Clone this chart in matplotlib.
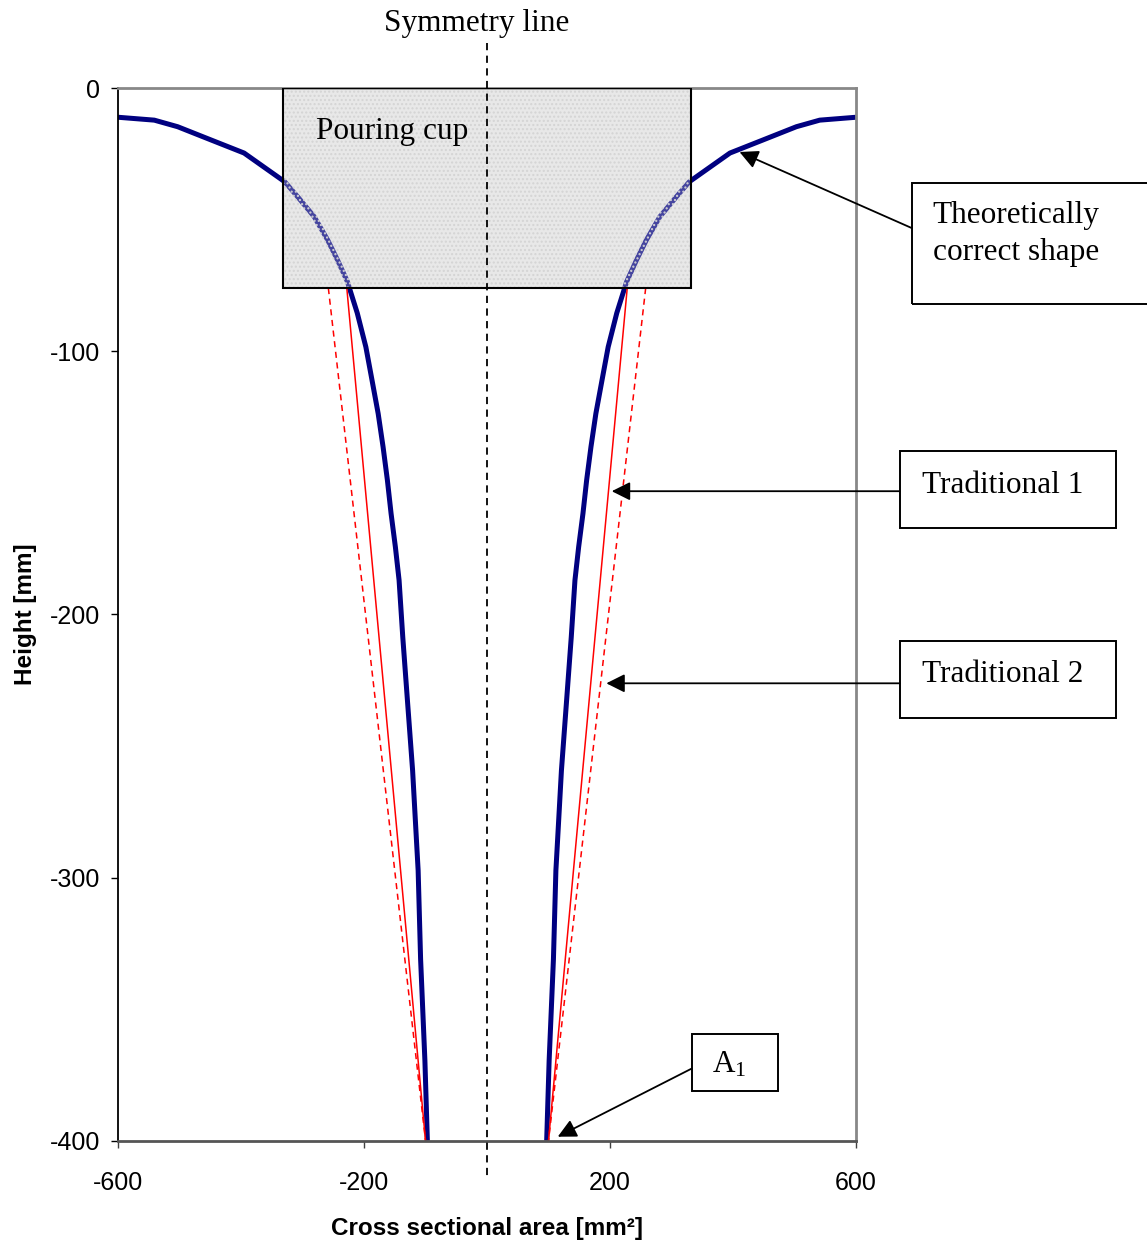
import matplotlib
matplotlib.use("Agg")
import matplotlib.pyplot as plt
from matplotlib.patches import Rectangle

# theoretically correct shape (right half, mirrored for the left half)
curve_h = [-11.1, -12.2, -14.7, -19.8, -24.7, -35.6, -41.3, -48.9, -57.8, -65.4,
           -73.6, -85.5, -98.4, -111, -123.7, -136.4, -149, -161.7, -174.4, -187,
           -208.6, -234, -259.3, -284.7, -297.3, -331, -369.6, -400]
curve_a = [600, 541, 503, 448, 395, 329, 308, 281, 259, 243,
           227, 211, 197, 187, 177, 169, 162, 156, 149, 143,
           137, 129, 121, 115, 112, 108, 101, 97]

# traditional shapes: straight lines from cup bottom to A1
trad_h = [-76, -400]
trad1_a = [228, 100]
trad2_a = [258, 100]

cup_w = 331
cup_h = 76

serif = "Liberation Serif"
sans = "Liberation Sans"
plt.rcParams["font.family"] = sans
plt.rcParams["axes.unicode_minus"] = False
plt.rcParams["mathtext.fontset"] = "custom"
plt.rcParams["mathtext.rm"] = serif
plt.rcParams["mathtext.it"] = serif

fig = plt.figure(figsize=(11.47, 12.40), dpi=100)
ax = fig.add_axes([0.1029, 0.0801, 0.6434, 0.8489])

# pouring cup background (under the curve)
ax.add_patch(Rectangle((-cup_w, -cup_h), 2 * cup_w, cup_h, facecolor="#e8e8e8",
                       edgecolor="none", zorder=1))

navy = "#000080"
ax.plot(curve_a, curve_h, color=navy, lw=3.6, zorder=2, solid_capstyle="butt",
        solid_joinstyle="round")
ax.plot([-a for a in curve_a], curve_h, color=navy, lw=3.6, zorder=2,
        solid_capstyle="butt", solid_joinstyle="round")

ax.plot(trad1_a, trad_h, color="red", lw=1.1, zorder=2)
ax.plot([-a for a in trad1_a], trad_h, color="red", lw=1.1, zorder=2)
ax.plot(trad2_a, trad_h, color="red", lw=1.1, ls=(0, (4, 3)), zorder=2)
ax.plot([-a for a in trad2_a], trad_h, color="red", lw=1.1, ls=(0, (4, 3)), zorder=2)

# cup overlay (slightly covers the curve), dotted texture, outline
ax.add_patch(Rectangle((-cup_w, -cup_h), 2 * cup_w, cup_h, facecolor="#e8e8e8",
                       edgecolor="none", alpha=0.3, zorder=3))
ax.add_patch(Rectangle((-cup_w, -cup_h), 2 * cup_w, cup_h, fill=False,
                       edgecolor="#d4d4d4", lw=0, hatch="....", zorder=3))
ax.add_patch(Rectangle((-cup_w, -cup_h), 2 * cup_w, cup_h, fill=False,
                       edgecolor="black", lw=1.5, zorder=4))
ax.text(-278, -16.5, "Pouring cup", family=serif, fontsize=22.5, va="center",
        ha="left", zorder=5)

# symmetry line
ax.plot([0, 0], [17, -415], color="black", lw=1.3, ls=(0, (4, 3)),
        clip_on=False, zorder=5)
ax.text(-16, 24.5, "Symmetry line", family=serif, fontsize=22.5, ha="center",
        va="center", clip_on=False)

ax.set_xlim(-600, 600)
ax.set_ylim(-400, 0)
ax.set_xticks([-600, -200, 200, 600])
ax.set_yticks([0, -100, -200, -300, -400])
ax.tick_params(axis="x", direction="out", length=5, width=1, pad=17,
               labelsize=18, color="#404040")
ax.tick_params(axis="y", direction="out", length=5, width=1, pad=8,
               labelsize=18, color="black")
ax.spines["left"].set_color("black")
ax.spines["left"].set_linewidth(1.3)
ax.spines["bottom"].set_color("#555555")
ax.spines["bottom"].set_linewidth(2)
ax.spines["top"].set_color("#888888")
ax.spines["top"].set_linewidth(2)
ax.spines["right"].set_color("#888888")
ax.spines["right"].set_linewidth(2)

ax.set_xlabel("Cross sectional area [mm²]", fontsize=17.5, fontweight="bold",
              labelpad=16)
ax.set_ylabel("Height [mm]", fontsize=17.5, fontweight="bold", labelpad=9)

arrow = dict(arrowstyle="-|>", color="black", lw=1.3, mutation_scale=28,
             shrinkA=0, shrinkB=0)

def box(x0, y0, x1, y1):
    ax.add_patch(Rectangle((x0, y1), x1 - x0, y0 - y1, fill=False,
                           edgecolor="black", lw=1.4, clip_on=False, zorder=5))

# theoretically correct shape
box(690.6, -36.1, 1140, -82.1)
ax.text(724.7, -43, "Theoretically\ncorrect shape", family=serif, fontsize=22.5,
        ha="left", va="top", linespacing=1.35, clip_on=False)
ax.annotate("", xy=(410.6, -24.3), xytext=(690.6, -53.2), arrowprops=arrow,
            annotation_clip=False)

# traditional 1
box(671, -138, 1022.3, -167.3)
ax.text(706.8, -151, "Traditional 1", family=serif, fontsize=22.5,
        ha="left", va="center", clip_on=False)
ax.annotate("", xy=(202.8, -153.2), xytext=(671, -153.2), arrowprops=arrow,
            annotation_clip=False)

# traditional 2
box(671, -210.3, 1022.3, -239.5)
ax.text(706.8, -223, "Traditional 2", family=serif, fontsize=22.5,
        ha="left", va="center", clip_on=False)
ax.annotate("", xy=(194, -226.2), xytext=(671, -226.2), arrowprops=arrow,
            annotation_clip=False)

# A1
box(332.8, -359.4, 472.7, -381)
ax.text(365.7, -371, r"A$_\mathrm{1}$", family=serif, fontsize=22.5,
        ha="left", va="center", clip_on=False)
ax.annotate("", xy=(115, -398.5), xytext=(332.8, -372.6), arrowprops=arrow,
            annotation_clip=False)

fig.savefig("out.png", dpi=100)
